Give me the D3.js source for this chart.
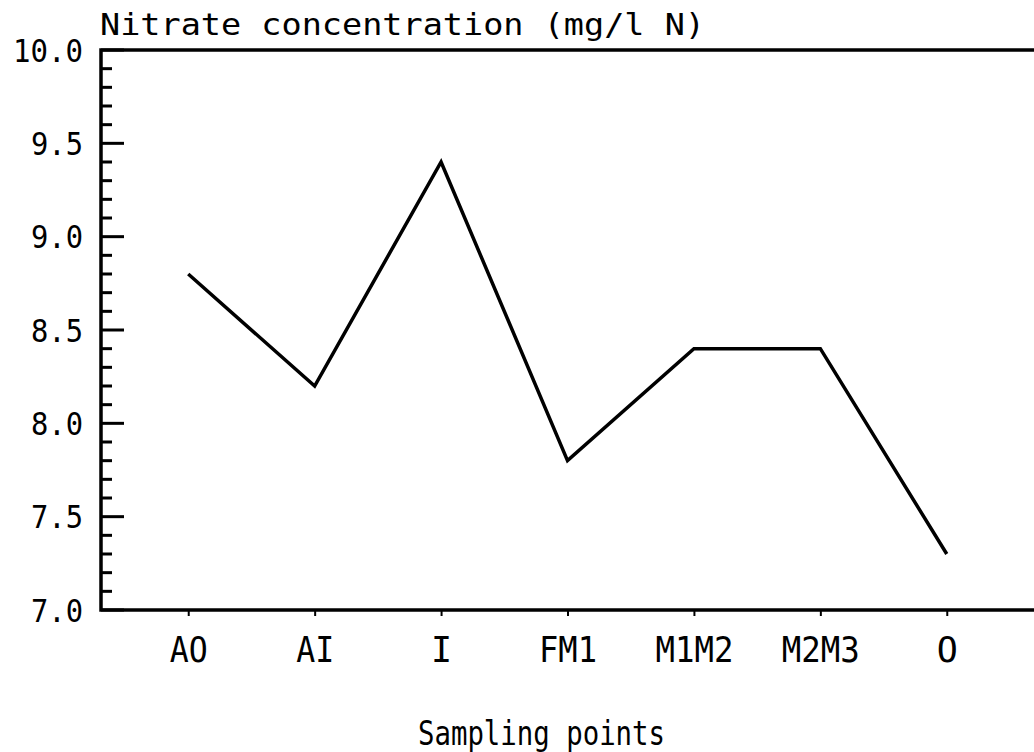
<!DOCTYPE html>
<html>
<head>
<meta charset="utf-8">
<script src="https://cdn.jsdelivr.net/npm/d3@7"></script>
<style>
  body { margin: 0; background: #fff; }
  text { font-family: "DejaVu Sans Mono", monospace; fill: #000; }
</style>
</head>
<body>
<div id="chart"></div>
<script>
// sampling points along the route
var sites = ["AO", "AI", "I", "FM1", "M1M2", "M2M3", "O"];
// nitrate concentration, mg/l N
var nitrate = [8.8, 8.2, 9.4, 7.8, 8.4, 8.4, 7.3];
var yTicks = [7.0, 7.5, 8.0, 8.5, 9.0, 9.5, 10.0];

var W = 1034, H = 752;
var margin = { top: 50, right: 0, bottom: 142, left: 101 };

var svg = d3.select("#chart")
    .append("svg")
    .attr("width", W)
    .attr("height", H);

var x = d3.scalePoint()
    .domain(sites)
    .range([margin.left, W])
    .padding(0.69);

var y = d3.scaleLinear()
    .domain([7, 10])
    .range([H - margin.bottom, margin.top]);

// minor ticks every 0.1 (inside the frame)
var minor = d3.range(70, 101).map(function (d) { return d / 10; });
svg.append("g")
    .selectAll("line")
    .data(minor)
    .enter()
    .append("line")
    .attr("x1", margin.left)
    .attr("x2", function (d) { return margin.left + (Math.round(d * 10) % 5 === 0 ? 23 : 11); })
    .attr("y1", function (d) { return y(d); })
    .attr("y2", function (d) { return y(d); })
    .attr("stroke", "#000")
    .attr("stroke-width", 3);

// y tick labels (plotter-ish: tall and narrow)
svg.append("g")
    .selectAll("text")
    .data(yTicks)
    .enter()
    .append("text")
    .attr("x", 83)
    .attr("y", function (d) { return y(d); })
    .attr("dy", "0.36em")
    .attr("text-anchor", "end")
    .attr("font-size", 32)
    .attr("textLength", function (d) { return d >= 10 ? 70 : 52; })
    .attr("lengthAdjust", "spacingAndGlyphs")
    .text(function (d) { return d3.format(".1f")(d); });

// x axis with short outward ticks
var xAxis = svg.append("g")
    .attr("transform", "translate(0," + y(7) + ")")
    .call(d3.axisBottom(x).tickSize(6).tickPadding(21).tickSizeOuter(0));
xAxis.select(".domain").remove();
xAxis.selectAll(".tick line").attr("stroke-width", 2);
xAxis.selectAll(".tick text")
    .attr("font-family", "DejaVu Sans Mono, monospace")
    .attr("font-size", 35)
    .attr("fill", "#000")
    .each(function (d) {
        if (d.length > 1) {
            d3.select(this)
                .attr("textLength", d.length * 20 - 2)
                .attr("lengthAdjust", "spacingAndGlyphs");
        }
    });

// frame: left, bottom, top
svg.append("path")
    .attr("d", "M" + W + "," + y(10) + "H" + margin.left + "V" + y(7) + "H" + W)
    .attr("fill", "none")
    .attr("stroke", "#000")
    .attr("stroke-width", 3.5);

// data line
var line = d3.line()
    .x(function (d, i) { return x(sites[i]); })
    .y(function (d) { return y(d); });

svg.append("path")
    .datum(nitrate)
    .attr("d", line)
    .attr("fill", "none")
    .attr("stroke", "#000")
    .attr("stroke-width", 3.5)
    .attr("stroke-linejoin", "miter");

// axis titles
svg.append("text")
    .attr("x", 100)
    .attr("y", 35)
    .attr("font-size", 30)
    .attr("textLength", 605)
    .attr("lengthAdjust", "spacingAndGlyphs")
    .text("Nitrate concentration (mg/l N)");

svg.append("text")
    .attr("x", 418)
    .attr("y", 745)
    .attr("font-size", 34)
    .attr("textLength", 247)
    .attr("lengthAdjust", "spacingAndGlyphs")
    .text("Sampling points");
</script>
</body>
</html>
